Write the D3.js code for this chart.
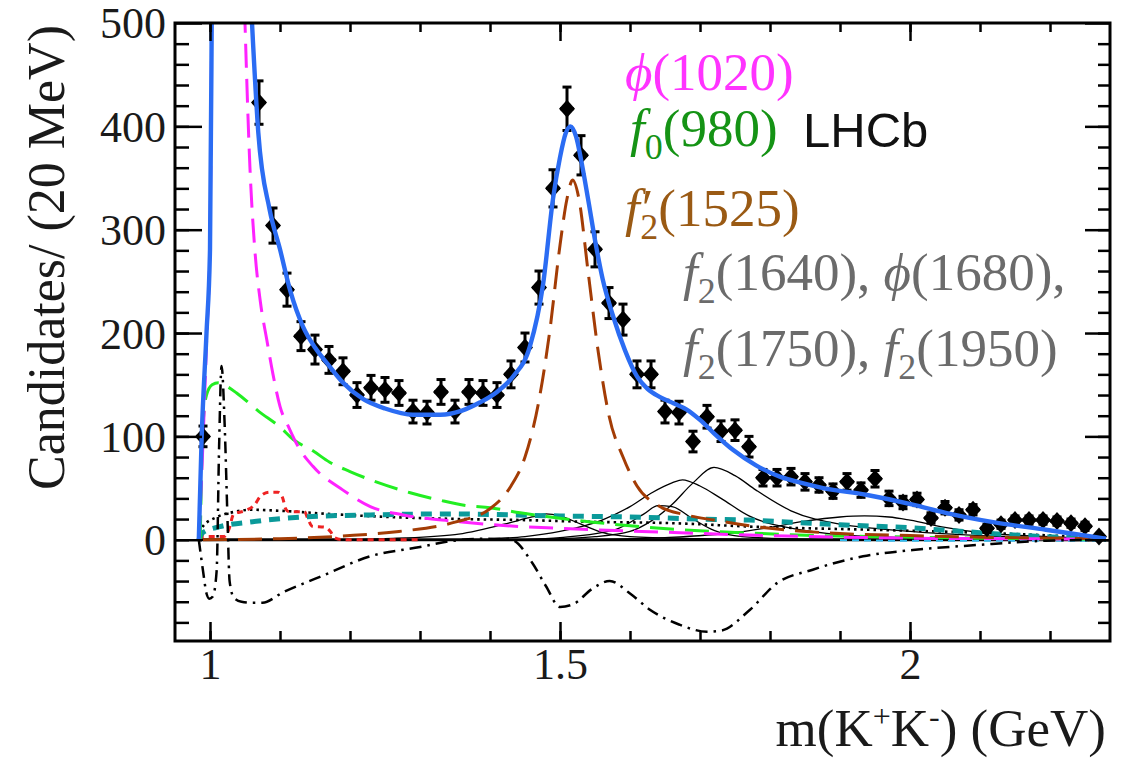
<!DOCTYPE html>
<html>
<head>
<meta charset="utf-8">
<script src="https://cdn.jsdelivr.net/npm/d3@7"></script>
<style>
  body { margin: 0; background: #fff; }
  svg { display: block; }
</style>
</head>
<body>
<svg id="chart" width="1122" height="760"></svg>
<script>
// ---- data ----
var binCenters = [0.99, 1.01, 1.03, 1.05, 1.07, 1.09, 1.11, 1.13, 1.15, 1.17, 1.19, 1.21, 1.23, 1.25, 1.27,
  1.29, 1.31, 1.33, 1.35, 1.37, 1.39, 1.41, 1.43, 1.45, 1.47, 1.49, 1.51, 1.53, 1.55, 1.57, 1.59,
  1.61, 1.63, 1.65, 1.67, 1.69, 1.71, 1.73, 1.75, 1.77, 1.79, 1.81, 1.83, 1.85, 1.87, 1.89, 1.91,
  1.93, 1.95, 1.97, 1.99, 2.01, 2.03, 2.05, 2.07, 2.09, 2.11, 2.13, 2.15, 2.17, 2.19, 2.21, 2.23,
  2.25, 2.27];
var binCounts = [100, 1450, 1900, 640, 423, 304, 242, 197, 184, 174, 163, 140, 147, 145, 142,
  124, 123, 143, 124, 143, 142, 140, 160, 186, 244, 340, 417, 372, 281, 229, 213,
  160, 160, 124, 123, 95, 119, 105, 106, 90, 60, 60, 61, 56, 53, 47, 56,
  48, 59, 40, 36, 39, 21, 31, 24, 29, 11, 15, 19, 19, 19, 18, 16,
  13, 3];
var binErrors = [10, 38, 44, 25, 21, 17, 16, 14, 14, 13, 13, 12, 12, 12, 12,
  11, 11, 12, 11, 12, 12, 12, 13, 14, 16, 18, 21, 19, 17, 15, 15,
  13, 13, 11, 11, 10, 11, 10, 10, 10, 8, 8, 8, 8, 7, 7, 8,
  7, 8, 7, 6, 6, 5, 6, 5, 5, 4, 4, 4, 4, 4, 4, 4,
  4, 2];

// total fit (blue)
var totalFit = [[0.984, 0], [0.988, 97], [0.995, 200], [1.0, 281], [1.003, 560], [1.012, 1500], [1.019, 3000],
  [1.03, 1500], [1.045, 750], [1.055, 570], [1.06, 500], [1.069, 394], [1.085, 320], [1.1, 281], [1.115, 240],
  [1.133, 206], [1.15, 186], [1.167, 171], [1.19, 152], [1.219, 136], [1.25, 127], [1.29, 121], [1.329, 121],
  [1.36, 125], [1.386, 133], [1.41, 143], [1.433, 158], [1.457, 187], [1.476, 248], [1.49, 330], [1.5, 370],
  [1.508, 393], [1.515, 400], [1.523, 390], [1.53, 368], [1.54, 330], [1.55, 290], [1.561, 252], [1.576, 216],
  [1.593, 183], [1.61, 158], [1.625, 146], [1.643, 138], [1.662, 132], [1.681, 126], [1.7, 116], [1.72, 103],
  [1.747, 87], [1.78, 72], [1.814, 61], [1.845, 55], [1.876, 50], [1.937, 43.5], [2.004, 34], [2.051, 26],
  [2.123, 16.5], [2.194, 9.7], [2.27, 2], [2.28, 1]];

// phi(1020) magenta
var phi1020 = [[0.984, 0], [0.99, 95], [0.995, 190], [1.0, 290], [1.003, 560], [1.012, 1500], [1.019, 3000],
  [1.03, 1400], [1.042, 700], [1.05, 500], [1.057, 361], [1.064, 281], [1.072, 230], [1.081, 194], [1.09, 160],
  [1.1, 129], [1.113, 108], [1.126, 90], [1.147, 71], [1.19, 48], [1.229, 32], [1.276, 24], [1.347, 18],
  [1.414, 14], [1.5, 11], [1.64, 7.5], [1.77, 4.5], [1.9, 2.5], [2.0, 1.5], [2.15, 1], [2.28, 0.5]];

// f0(980) green
var f0980 = [[0.986, 0], [0.99, 110], [0.995, 140], [1.003, 150], [1.012, 152], [1.025, 148], [1.038, 142],
  [1.07, 124], [1.1, 109], [1.119, 97], [1.147, 86], [1.171, 75], [1.2, 66], [1.229, 58], [1.286, 45.5],
  [1.33, 38], [1.367, 33], [1.4, 31], [1.443, 26], [1.486, 22], [1.547, 17], [1.633, 11.6], [1.676, 9.5],
  [1.771, 6.5], [1.87, 4], [1.971, 2.9], [2.1, 1.5], [2.28, 0.5]];

// f2'(1525) brown
var f2p1525 = [[0.99, 0], [1.1, 1], [1.2, 4], [1.27, 8], [1.35, 17], [1.4, 30], [1.43, 52], [1.45, 80],
  [1.47, 135], [1.485, 200], [1.5, 285], [1.51, 330], [1.518, 348], [1.527, 330], [1.54, 260], [1.555, 180],
  [1.57, 120], [1.59, 80], [1.61, 52], [1.64, 33], [1.68, 24], [1.72, 19], [1.8, 11], [1.9, 6], [2.0, 4],
  [2.1, 2.5], [2.28, 1]];

// teal dashed component
var tealComp = [[0.984, 0], [0.99, 7], [1.014, 12.6], [1.061, 17.4], [1.133, 22], [1.229, 24], [1.347, 25],
  [1.4, 24.5], [1.5, 23], [1.6, 22], [1.7, 20], [1.77, 19], [1.83, 17], [1.9, 14.5], [1.95, 13], [2.0, 11.6],
  [2.04, 9.7], [2.1, 6.8], [2.19, 3], [2.28, 0.8]];

// fine dotted component
var dottedComp = [[0.984, 0], [0.99, 13], [1.01, 22], [1.035, 27], [1.06, 29], [1.1, 28], [1.18, 24.5],
  [1.276, 21.5], [1.36, 20], [1.45, 19], [1.53, 17.5], [1.66, 16], [1.78, 12.5], [1.94, 9.7], [2.05, 7.8],
  [2.15, 5.5], [2.24, 3], [2.28, 2]];

// red dotted component
var redComp = [[0.984, 0], [0.99, 3], [1.02, 3], [1.027, 10], [1.034, 25], [1.05, 28], [1.064, 34],
  [1.072, 42], [1.085, 46], [1.097, 46], [1.104, 40], [1.108, 30], [1.113, 27], [1.135, 27], [1.14, 20],
  [1.146, 13], [1.165, 12], [1.172, 8], [1.178, 2], [1.19, 0], [1.3, 0]];

// interference (dash-dot)
var interference = [[0.984, 0], [0.99, -30], [0.995, -52], [0.999, -57], [1.004, -55], [1.0095, -30],
  [1.013, 90], [1.0165, 168], [1.021, 110], [1.025, 20], [1.028, -40], [1.034, -56], [1.045, -60],
  [1.06, -61], [1.075, -61], [1.104, -51], [1.157, -36], [1.229, -16], [1.3, -7], [1.347, -1], [1.39, 1],
  [1.43, 0], [1.46, -22], [1.48, -45], [1.5, -65], [1.52, -62], [1.545, -48], [1.571, -40], [1.6, -52],
  [1.629, -68], [1.67, -82], [1.71, -89], [1.73, -88], [1.771, -68], [1.81, -42], [1.861, -29],
  [1.933, -16], [2.004, -10], [2.098, -5], [2.194, -1], [2.28, 0]];

// thin black resonances: f2(1640), phi(1680), f2(1750), f2(1950) and one broad bump
var bumpA = [[1.2, 0], [1.25, 1], [1.35, 5], [1.42, 15], [1.46, 22], [1.48, 25], [1.5, 23], [1.53, 15],
  [1.56, 7], [1.6, 3], [1.7, 1], [1.8, 0]];
var bumpB = [[1.4, 1], [1.45, 3], [1.5, 8], [1.56, 19], [1.6, 32], [1.63, 45], [1.66, 55], [1.675, 58],
  [1.7, 52], [1.73, 40], [1.77, 23], [1.84, 10], [1.9, 5], [2.0, 2], [2.1, 1], [2.2, 0]];
var bumpC = [[1.45, 0], [1.55, 3], [1.6, 8], [1.63, 18], [1.66, 34], [1.69, 55], [1.72, 70], [1.75, 62],
  [1.78, 48], [1.83, 28], [1.9, 15], [1.95, 11], [2.0, 8], [2.1, 4], [2.2, 2], [2.28, 1]];
var bumpD = [[1.45, 0], [1.5, 2], [1.58, 10], [1.62, 25], [1.64, 33], [1.66, 32], [1.69, 20], [1.72, 9],
  [1.76, 3], [1.85, 0.5], [1.95, 0]];
var bumpE = [[1.55, 0], [1.65, 2], [1.75, 7], [1.8, 12], [1.85, 18], [1.9, 22], [1.935, 23], [1.97, 22],
  [2.0, 19], [2.05, 12], [2.1, 7], [2.2, 3], [2.28, 1]];
var zeroLine = [[0.984, 0], [2.28, 0]];
var cyanTail = [[1.9, -0.3], [2.0, -1], [2.28, -1]];

var yMajorTicks = [0, 100, 200, 300, 400, 500];
var xMajorTicks = [1, 1.5, 2];

// ---- layout ----
var svg = d3.select("#chart");
var serif = "'Liberation Serif', 'DejaVu Serif', serif";
var frame = { left: 175, right: 1110, top: 23, bottom: 641 };

var xScale = d3.scaleLinear().domain([0.95, 2.2857]).range([frame.left, frame.right]);
var yScale = d3.scaleLinear().domain([-98, 500]).range([frame.bottom, frame.top]);

svg.append("clipPath").attr("id", "clip")
  .append("rect")
  .attr("x", frame.left).attr("y", frame.top)
  .attr("width", frame.right - frame.left).attr("height", frame.bottom - frame.top);

var plot = svg.append("g").attr("clip-path", "url(#clip)");

var line = d3.line()
  .x(function (d) { return xScale(d[0]); })
  .y(function (d) { return yScale(d[1]); })
  .curve(d3.curveMonotoneX);

function drawCurve(data, color, width, dash) {
  plot.append("path")
    .attr("d", line(data))
    .attr("fill", "none")
    .attr("stroke", color)
    .attr("stroke-width", width)
    .attr("stroke-dasharray", dash || null)
    .attr("stroke-linejoin", "round");
}

// components
[bumpA, bumpB, bumpC, bumpD, bumpE].forEach(function (b) { drawCurve(b, "#000", 1.3); });
drawCurve(zeroLine, "#000", 3);
drawCurve(cyanTail, "#33bbee", 2, "7,5");
drawCurve(dottedComp, "#000", 2.6, "2.5,4");
drawCurve(redComp, "#ee2222", 3, "6,5");
drawCurve(tealComp, "#0b9a9a", 5, "11,8");
drawCurve(f0980, "#22ee22", 3, "24,11");
drawCurve(phi1020, "#ff22ff", 3, "24,11");
drawCurve(f2p1525, "#a33c05", 3, "24,11");
drawCurve(interference, "#000", 2.5, "12,6,2.5,6");

// data points with error bars
var points = plot.append("g").attr("stroke", "#000").attr("stroke-width", 3);
binCenters.forEach(function (c, i) {
  var px = xScale(c), py = yScale(binCounts[i]);
  var lo = yScale(binCounts[i] - binErrors[i]), hi = yScale(binCounts[i] + binErrors[i]);
  points.append("line").attr("x1", xScale(c - 0.01)).attr("x2", xScale(c + 0.01)).attr("y1", py).attr("y2", py);
  points.append("line").attr("x1", px).attr("x2", px).attr("y1", lo).attr("y2", hi);
  points.append("line").attr("x1", px - 4.5).attr("x2", px + 4.5).attr("y1", lo).attr("y2", lo);
  points.append("line").attr("x1", px - 4.5).attr("x2", px + 4.5).attr("y1", hi).attr("y2", hi);
  points.append("path")
    .attr("d", "M" + px + "," + (py - 9) + "L" + (px + 8) + "," + py + "L" + px + "," + (py + 9) + "L" + (px - 8) + "," + py + "Z")
    .attr("fill", "#000").attr("stroke", "none");
});

drawCurve(totalFit, "#2b6cf3", 4.4);

// ---- axes ----
function styleAxis(g) {
  g.select(".domain").remove();
  g.selectAll(".tick line").attr("stroke-width", 2.5);
  g.selectAll("text").style("font-family", serif).style("font-size", "44px").attr("fill", "#1a1a1a");
}
var yMinor = d3.range(-80, 500, 20);
var xMinor = d3.range(1, 2.29, 0.1);

svg.append("g").attr("transform", "translate(" + frame.left + ",0)")
  .call(d3.axisLeft(yScale).tickValues(yMinor).tickSize(-14).tickFormat("")).call(styleAxis);
svg.append("g").attr("transform", "translate(" + frame.left + ",0)")
  .call(d3.axisLeft(yScale).tickValues(yMajorTicks).tickSize(-27).tickPadding(9).tickFormat(d3.format("d")))
  .call(styleAxis);
svg.selectAll("g.tick text").attr("dy", "0.34em");

svg.append("g").attr("transform", "translate(" + frame.right + ",0)")
  .call(d3.axisRight(yScale).tickValues(yMinor).tickSize(-12).tickFormat("")).call(styleAxis);
svg.append("g").attr("transform", "translate(" + frame.right + ",0)")
  .call(d3.axisRight(yScale).tickValues(yMajorTicks).tickSize(-25).tickFormat("")).call(styleAxis);

svg.append("g").attr("transform", "translate(0," + frame.bottom + ")")
  .call(d3.axisBottom(xScale).tickValues(xMinor).tickSize(-10).tickFormat("")).call(styleAxis);
svg.append("g").attr("transform", "translate(0," + frame.bottom + ")")
  .call(d3.axisBottom(xScale).tickValues(xMajorTicks).tickSize(-19).tickPadding(7).tickFormat(function (d) { return String(d); }))
  .call(styleAxis);

svg.append("g").attr("transform", "translate(0," + frame.top + ")")
  .call(d3.axisTop(xScale).tickValues(xMinor).tickSize(-9).tickFormat("")).call(styleAxis);
svg.append("g").attr("transform", "translate(0," + frame.top + ")")
  .call(d3.axisTop(xScale).tickValues(xMajorTicks).tickSize(-18).tickFormat("")).call(styleAxis);

svg.append("rect")
  .attr("x", frame.left).attr("y", frame.top)
  .attr("width", frame.right - frame.left).attr("height", frame.bottom - frame.top)
  .attr("fill", "none").attr("stroke", "#000").attr("stroke-width", 3);

// axis titles
var xt = svg.append("text")
  .attr("x", 1106).attr("y", 746)
  .attr("text-anchor", "end")
  .style("font-family", serif).style("font-size", "53px").attr("fill", "#1a1a1a");
xt.append("tspan").text("m(K");
xt.append("tspan").text("+").attr("dy", -19).style("font-size", "32px");
xt.append("tspan").text("K").attr("dy", 19);
xt.append("tspan").text("-").attr("dy", -19).style("font-size", "32px");
xt.append("tspan").text(") (GeV)").attr("dy", 19);

svg.append("text")
  .attr("transform", "translate(64,25) rotate(-90)")
  .attr("text-anchor", "end")
  .style("font-family", serif).style("font-size", "52px").attr("fill", "#1a1a1a")
  .text("Candidates/ (20 MeV)");

// ---- legend labels ----
function label(x, y, color, parts) {
  var t = svg.append("text").attr("x", x).attr("y", y).attr("fill", color)
    .style("font-family", serif).style("font-size", "53px");
  parts.forEach(function (p) {
    var s = t.append("tspan").text(p.t);
    if (p.it) s.style("font-style", "italic");
    if (p.size) s.style("font-size", p.size + "px");
    if (p.dy) s.attr("dy", p.dy);
    if (p.dx) s.attr("dx", p.dx);
  });
}
label(625, 90, "#ff33ff", [{ t: "ϕ", it: true }, { t: "(1020)" }]);
label(630, 146, "#159315", [{ t: "f", it: true }, { t: "0", size: 36, dy: 13 }, { t: "(980)", dy: -13 }]);
label(625, 226, "#9a5a14", [{ t: "f", it: true }, { t: "′", dx: 2 }, { t: "2", size: 36, dy: 13, dx: -13 }, { t: "(1525)", dy: -13 }]);
label(683, 290, "#6b6b6b", [{ t: "f", it: true }, { t: "2", size: 36, dy: 13 }, { t: "(1640),", dy: -13 }, { t: " ϕ", it: true }, { t: "(1680)," }]);
label(683, 366, "#6b6b6b", [{ t: "f", it: true }, { t: "2", size: 36, dy: 13 }, { t: "(1750),", dy: -13 }, { t: " f", it: true }, { t: "2", size: 36, dy: 13 }, { t: "(1950)", dy: -13 }]);

svg.append("text")
  .attr("x", 803).attr("y", 147)
  .style("font-family", "'Liberation Sans', Arial, sans-serif").style("font-size", "49px").attr("fill", "#111")
  .text("LHCb");
</script>
</body>
</html>
